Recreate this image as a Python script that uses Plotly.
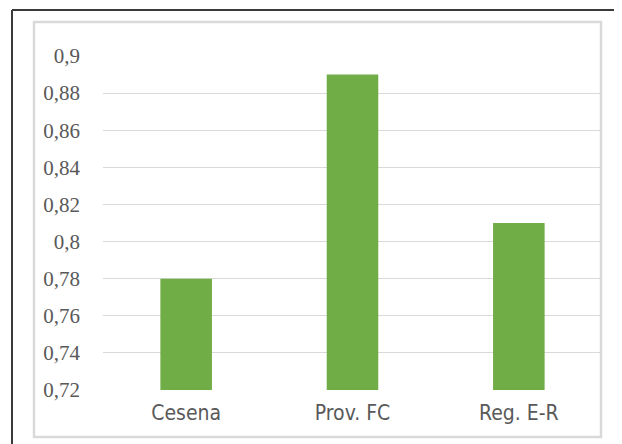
import plotly.graph_objects as go

categories = ["Cesena", "Prov. FC", "Reg. E-R"]
values = [0.78, 0.89, 0.81]
tick_vals = [0.72, 0.74, 0.76, 0.78, 0.80, 0.82, 0.84, 0.86, 0.88, 0.90]
tick_text = ["0,72", "0,74", "0,76", "0,78", "0,8", "0,82", "0,84", "0,86", "0,88", "0,9"]

# page has an 8px body margin, so the figure is drawn at (8, 8)
OFF = 8
W, H = 622 - OFF, 444 - OFF
L, R, T, B = 103 - OFF, 20, 56 - OFF, 54
pw = W - L - R
ph = H - T - B

def px(x):
    return (x - OFF - L) / pw

def py(y):
    return (H - B - (y - OFF)) / ph

fig = go.Figure(go.Bar(
    x=categories, y=values, marker=dict(color="#70AD47", line=dict(width=0)),
    width=0.31,
))

shapes = [
    dict(type="line", xref="paper", yref="paper", x0=px(12), x1=px(640), y0=py(10), y1=py(10),
         line=dict(color="#3a3a3a", width=2)),
    dict(type="line", xref="paper", yref="paper", x0=px(12), x1=px(12), y0=py(10), y1=py(460),
         line=dict(color="#3a3a3a", width=2)),
    dict(type="rect", xref="paper", yref="paper", x0=px(34), x1=px(601), y0=py(437), y1=py(22),
         line=dict(color="#D9D9D9", width=2.5), layer="below"),
]

fig.update_layout(
    width=W, height=H,
    margin=dict(l=L, r=R, t=T, b=B),
    paper_bgcolor="white", plot_bgcolor="white",
    showlegend=False,
    shapes=shapes,
    font=dict(family="Liberation Sans Narrow, DejaVu Sans Condensed, Lato", size=21, color="#595959"),
    xaxis=dict(showgrid=False, showline=False, zeroline=False, ticks="",
               tickfont=dict(family="Liberation Sans Narrow, DejaVu Sans Condensed, Lato", size=21, color="#595959"),
               ticklabelstandoff=8),
    yaxis=dict(range=[0.72, 0.9], tickvals=tick_vals, ticktext=tick_text,
               showgrid=True, gridcolor="#D9D9D9", gridwidth=1, zeroline=False,
               showline=False, ticks="", ticklabelstandoff=22,
               tickfont=dict(family="Liberation Serif", size=21, color="#595959")),
)

fig.write_html("out.html")
